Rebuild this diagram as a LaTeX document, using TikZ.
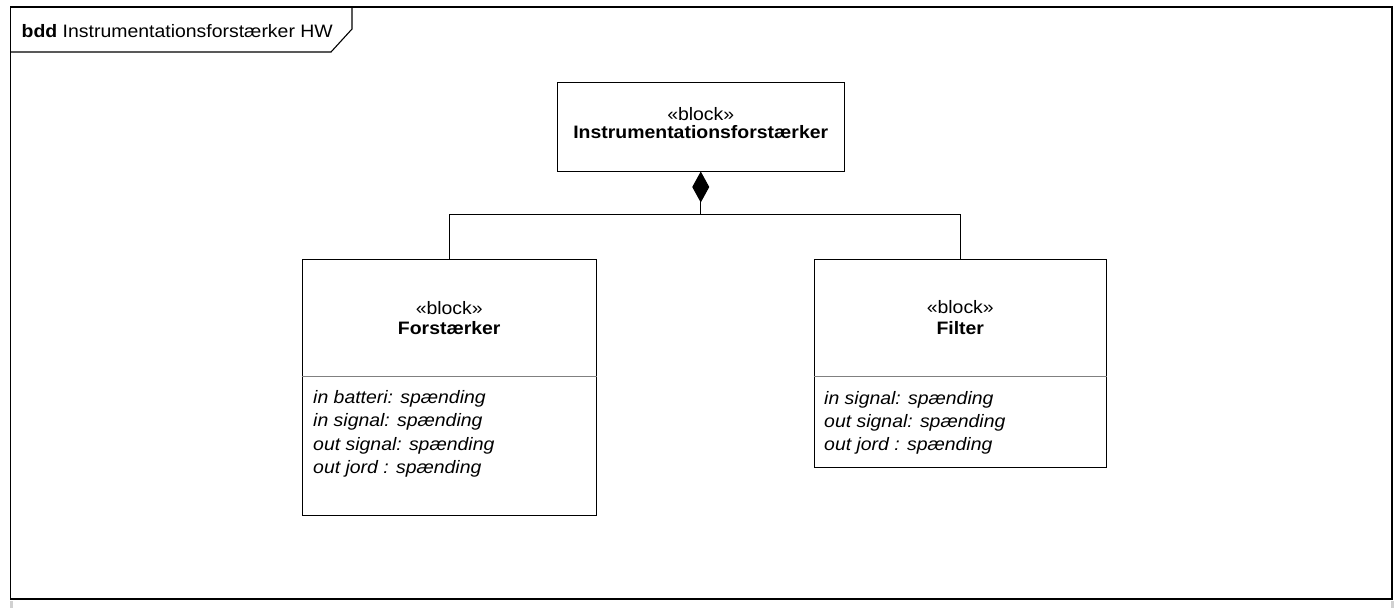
\documentclass[tikz,border=0pt]{standalone}
\usepackage{fontspec}
\setmainfont{Liberation Sans}[FakeStretch=1.08]
\usetikzlibrary{arrows.meta}
\begin{document}
\begin{tikzpicture}[x=1pt,y=-1pt,
  font=\fontsize{18}{21}\selectfont,
  frameline/.style={draw=black, line width=1.1pt},
  blockbox/.style={draw=black, line width=1pt, fill=white, inner sep=0pt},
  sepline/.style={draw=black!50, line width=1pt},
  lbl/.style={anchor=base, inner sep=0pt},
  namelbl/.style={anchor=base, inner sep=0pt, font=\fontsize{18}{21}\selectfont\bfseries},
  attr/.style={anchor=base west, inner sep=0pt, font=\fontsize{18}{21}\selectfont\itshape},
  conn/.style={draw=black, line width=1pt},
  shade/.style={fill=black!18, draw=none}]
\useasboundingbox (0,0) rectangle (1396,608);
\fill[white] (0,0) rectangle (1396,608);
% frame
\draw[frameline] (10.5,7) rectangle (1392,599);
\draw[frameline] (10.5,52) -- (331,52) -- (352,29) -- (352,7);
\fill[shade] (10,601) rectangle (12.5,608);
\fill[shade] (1391,601) rectangle (1393.5,608);
\node[anchor=base west, inner sep=0pt] (title) at (21.5,37) {\textbf{bdd} Instrumentationsforstærker HW};
% blocks
\node[blockbox, minimum width=286.5pt, minimum height=89pt] (main) at (700.75,126.5) {};
\node[blockbox, minimum width=294.5pt, minimum height=256pt] (forst) at (449.25,387) {};
\node[blockbox, minimum width=292.5pt, minimum height=208.5pt] (filt) at (960.25,363.25) {};
\draw[sepline] ([yshift=-118pt]forst.north west) -- ([yshift=-118pt]forst.north east);
\draw[sepline] ([yshift=-118pt]filt.north west) -- ([yshift=-118pt]filt.north east);
% texts
\node[lbl] (mst) at (700.75,120) {«block»};
\node[namelbl] (mnm) at (700.75,138.5) {Instrumentationsforstærker};
\node[lbl] (fst) at (449.25,314) {«block»};
\node[namelbl] (fnm) at (449.25,334) {Forstærker};
\node[lbl] (gst) at (960.25,313.5) {«block»};
\node[namelbl] (gnm) at (960.25,334) {Filter};
\node[attr] (fa1) at (313,403.3) {in batteri: spænding};
\node[attr] (fa2) at (313,426.7) {in signal: spænding};
\node[attr] (fa3) at (313,450) {out signal: spænding};
\node[attr] (fa4) at (313,473.3) {out jord : spænding};
\node[attr] (ga1) at (824,404) {in signal: spænding};
\node[attr] (ga2) at (824,427.3) {out signal: spænding};
\node[attr] (ga3) at (824,450.7) {out jord : spænding};
% connectors
\coordinate (j) at (700.75,214);
\draw[conn, {Diamond[length=31pt,width=17pt]}-] (main.south) -- (j);
\draw[conn] (j) -| (forst.north);
\draw[conn] (j) -| (filt.north);
\end{tikzpicture}
\end{document}
